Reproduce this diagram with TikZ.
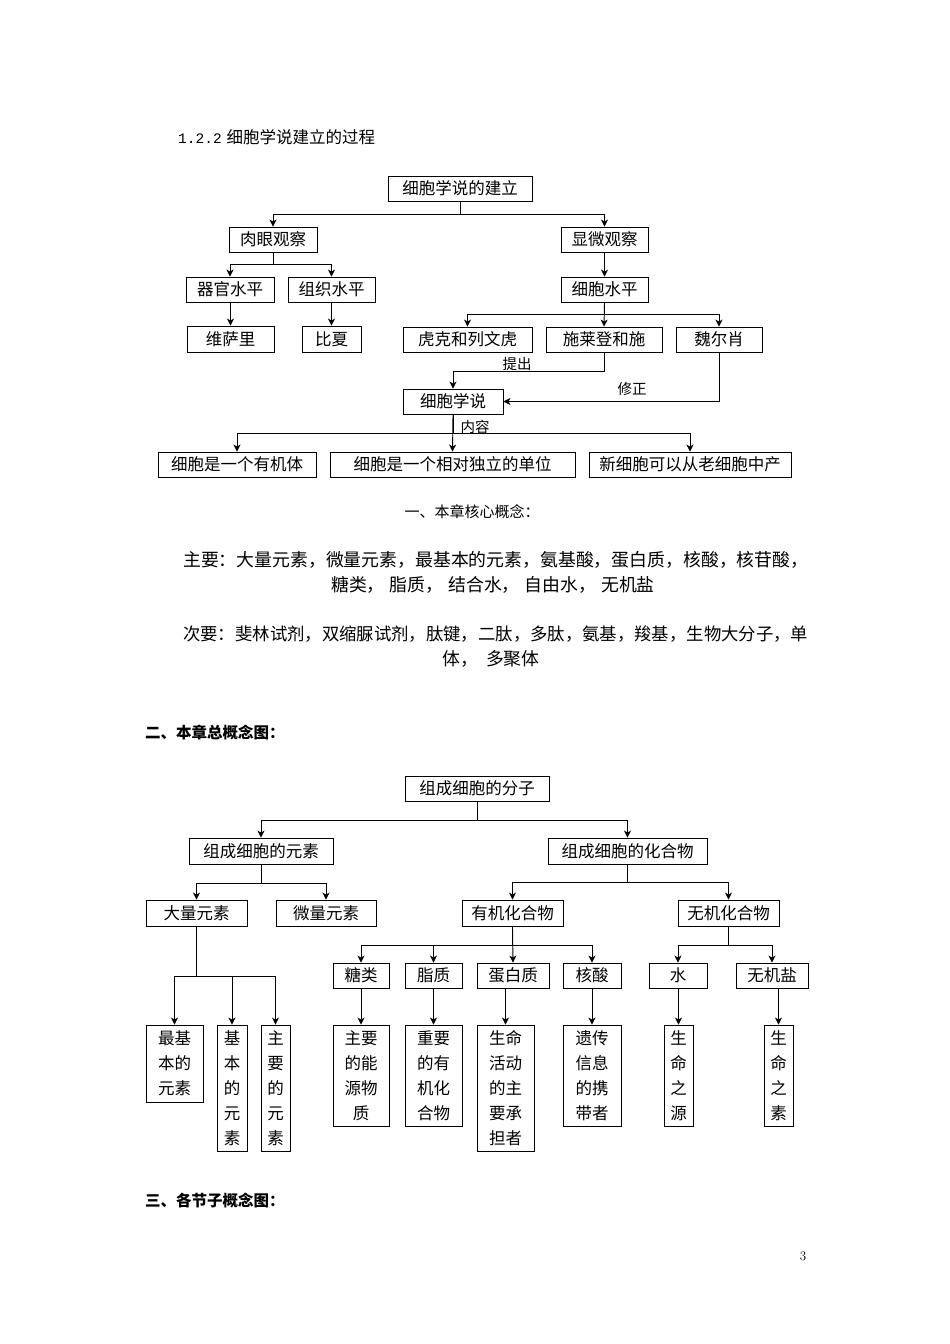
\documentclass[tikz,border=0pt]{standalone}
\usepackage{fontspec}
\newfontfamily\cjk{Noto Sans CJK SC}
\newfontfamily\monofam{Liberation Mono}
\usetikzlibrary{arrows.meta}
\newcommand\boxfont{\cjk\fontsize{16.5}{25}\selectfont}
\newcommand\bx[6]{\node[box, minimum width={#4-#2}, minimum height={#5-#3}] (#1) at ({(#2+#4)/2},{(#3+#5)/2}) {#6};}
\begin{document}
\begin{tikzpicture}[x=1pt,y=-1pt,
  box/.style={draw, line width=0.9pt, inner sep=0pt, align=center, font=\boxfont},
  arr/.style={-{Stealth[length=7pt,width=7pt,inset=2pt]}, line width=0.9pt},
  lbl/.style={inner sep=0pt, font=\cjk\fontsize{14.5}{16}\selectfont},
  para/.style={inner sep=0pt, font=\cjk\fontsize{17.86}{25}\selectfont},
  head/.style={inner sep=0pt, anchor=west, font=\cjk\bfseries\fontsize{15.5}{18}\selectfont}]
\useasboundingbox[fill=white] (0,0) rectangle (950,1344);

% ---------- title ----------
\node[inner sep=0pt, anchor=west, font=\cjk\fontsize{16.5}{18}\selectfont] (title) at (178,137) {{\monofam\fontsize{14.5}{16}\selectfont 1.2.2}\hspace{5pt}细胞学说建立的过程};

% ---------- top diagram ----------
\bx{A}{388}{176}{532}{201}{细胞学说的建立}
\bx{B1}{229}{227}{317}{252}{肉眼观察}
\bx{B2}{561}{227}{648}{252}{显微观察}
\bx{C1}{186}{277}{274}{302}{器官水平}
\bx{C2}{288}{277}{375}{302}{组织水平}
\bx{C3}{561}{277}{648}{302}{细胞水平}
\bx{D1}{187}{326}{274}{352}{维萨里}
\bx{D2}{302}{326}{361}{352}{比夏}
\bx{D3}{403}{327}{532}{352}{虎克和列文虎}
\bx{D4}{546}{327}{662}{352}{施莱登和施}
\bx{D5}{676}{327}{762}{352}{魏尔肖}
\bx{E}{403}{389}{503}{414}{细胞学说}
\bx{F1}{158}{452}{316}{477}{细胞是一个有机体}
\bx{F2}{330}{452}{575}{477}{细胞是一个相对独立的单位}
\bx{F3}{589}{452}{791}{477}{新细胞可以从老细胞中产}

\coordinate (jA) at (460,214);
\coordinate (jB1) at (273,264);
\coordinate (jC3) at (604,314);
\coordinate (jD4) at (604,371);
\coordinate (jE) at (453,433);

\draw[arr] (A.south) |- (B1.north |- jA) -- (B1.north);
\draw[arr] (A.south) |- (B2.north |- jA) -- (B2.north);
\draw[arr] (B1.south) |- (C1.north |- jB1) -- (C1.north);
\draw[arr] (B1.south) |- (C2.north |- jB1) -- (C2.north);
\draw[arr] (B2.south) -- (C3.north);
\draw[arr] (D1.north |- C1.south) -- (D1.north);
\draw[arr] (D2.north |- C2.south) -- (D2.north);
\draw[arr] (C3.south) |- (D3.north |- jC3) -- (D3.north);
\draw[arr] (C3.south) -- (D4.north);
\draw[arr] (C3.south) |- (D5.north |- jC3) -- (D5.north);
\draw[arr] (D4.south) |- (E.north |- jD4) -- (E.north);
\draw[arr] (D5.south) |- (E.east);
\draw[arr] (E.south) |- (F1.north |- jE) -- (F1.north);
\draw[arr] (E.south) -- (F2.north);
\draw[arr] (E.south) |- (F3.north |- jE) -- (F3.north);

\node[lbl] (l1) at (517,364) {提出};
\node[lbl] (l2) at (632,389) {修正};
\node[lbl] (l3) at (475,427) {内容};

% ---------- middle text ----------
\node[inner sep=0pt, font=\cjk\fontsize{15}{18}\selectfont] (h1) at (472,512) {一、本章核心概念：};
\node[para, anchor=west] (p1) at (183,560) {主要：大量元素，微量元素，最基本的元素，氨基酸，蛋白质，核酸，核苷酸，};
\node[para] (p2) at (493,585) {糖类，\hspace{5pt}脂质，\hspace{5pt}结合水，\hspace{5pt}自由水，\hspace{5pt}无机盐};
\node[para, anchor=west, font=\cjk\fontsize{17.36}{25}\selectfont] (p3) at (183,634) {次要：斐林试剂，双缩脲试剂，肽键，二肽，多肽，氨基，羧基，生物大分子，单};
\node[para] (p4) at (491,659) {体，\hspace{8pt}多聚体};
\node[head] (h2) at (145,733) {二、本章总概念图：};

% ---------- bottom diagram ----------
\bx{G}{405}{776}{549}{801}{组成细胞的分子}
\bx{H1}{189}{838}{333}{864}{组成细胞的元素}
\bx{H2}{548}{838}{707}{864}{组成细胞的化合物}
\bx{I1}{146}{900}{247}{926}{大量元素}
\bx{I2}{276}{900}{376}{926}{微量元素}
\bx{I3}{462}{900}{563}{926}{有机化合物}
\bx{I4}{678}{900}{779}{926}{无机化合物}
\bx{J1}{333}{963}{389}{988}{糖类}
\bx{J2}{405}{963}{462}{988}{脂质}
\bx{J3}{477}{963}{549}{988}{蛋白质}
\bx{J4}{563}{963}{621}{988}{核酸}
\bx{J5}{649}{963}{707}{988}{水}
\bx{J6}{736}{963}{808}{988}{无机盐}
\bx{K1}{146}{1025}{203}{1102}{最基\\本的\\元素}
\bx{K2}{217}{1025}{247}{1151}{基\\本\\的\\元\\素}
\bx{K3}{261}{1025}{290}{1151}{主\\要\\的\\元\\素}
\bx{L1}{333}{1025}{389}{1126}{主要\\的能\\源物\\质}
\bx{L2}{405}{1025}{462}{1126}{重要\\的有\\机化\\合物}
\bx{L3}{477}{1025}{534}{1151}{生命\\活动\\的主\\要承\\担者}
\bx{L4}{563}{1025}{621}{1126}{遗传\\信息\\的携\\带者}
\bx{L5}{664}{1025}{693}{1126}{生\\命\\之\\源}
\bx{L6}{764}{1025}{793}{1126}{生\\命\\之\\素}

\coordinate (jG) at (477,820);
\coordinate (jH1) at (261,883);
\coordinate (jH2) at (628,882);
\coordinate (jI1) at (196,976);
\coordinate (jI3) at (513,945);
\coordinate (jI4) at (729,945);

\draw[arr] (G.south) |- (H1.north |- jG) -- (H1.north);
\draw[arr] (G.south) |- (H2.north |- jG) -- (H2.north);
\draw[arr] (H1.south) |- (I1.north |- jH1) -- (I1.north);
\draw[arr] (H1.south) |- (I2.north |- jH1) -- (I2.north);
\draw[arr] (H2.south) |- (I3.north |- jH2) -- (I3.north);
\draw[arr] (H2.south) |- (I4.north |- jH2) -- (I4.north);
\draw[arr] (I3.south) |- (J1.north |- jI3) -- (J1.north);
\draw[arr] (I3.south) |- (J2.north |- jI3) -- (J2.north);
\draw[arr] (I3.south) -- (J3.north);
\draw[arr] (I3.south) |- (J4.north |- jI3) -- (J4.north);
\draw[arr] (I4.south) |- (J5.north |- jI4) -- (J5.north);
\draw[arr] (I4.south) |- (J6.north |- jI4) -- (J6.north);
\draw[arr] (I1.south) |- (K1.north |- jI1) -- (K1.north);
\draw[arr] (I1.south) |- (K2.north |- jI1) -- (K2.north);
\draw[arr] (I1.south) |- (K3.north |- jI1) -- (K3.north);
\draw[arr] (L1.north |- J1.south) -- (L1.north);
\draw[arr] (L2.north |- J2.south) -- (L2.north);
\draw[arr] (L3.north |- J3.south) -- (L3.north);
\draw[arr] (L4.north |- J4.south) -- (L4.north);
\draw[arr] (L5.north |- J5.south) -- (L5.north);
\draw[arr] (L6.north |- J6.south) -- (L6.north);

\node[head] (h3) at (145,1201) {三、各节子概念图：};
\node[inner sep=0pt, font=\fontsize{13}{15}\selectfont] (pg) at (803,1256) {3};
\end{tikzpicture}
\end{document}
